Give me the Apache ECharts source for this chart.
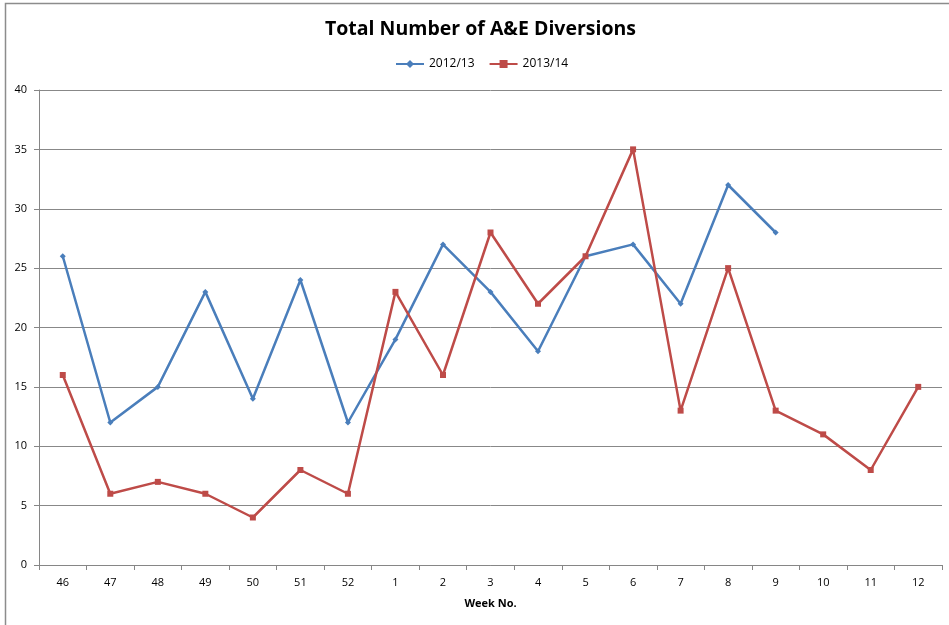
<!DOCTYPE html>
<html><head><meta charset="utf-8">
<script src="https://cdn.jsdelivr.net/npm/echarts@6/dist/echarts.min.js"></script>
<style>html,body{margin:0;padding:0;background:#fff}#c{width:949px;height:625px}</style>
</head><body><div id="c"></div>
<script>
const weeks = ['46','47','48','49','50','51','52','1','2','3','4','5','6','7','8','9','10','11','12'];
const s2012 = [26,12,15,23,14,24,12,19,27,23,18,26,27,22,32,28,null,null,null];
const s2013 = [16,6,7,6,4,8,6,23,16,28,22,26,35,13,25,13,11,8,15];
const yTicks = {min:0,max:40,interval:5};

const chart = echarts.init(document.getElementById('c'));
const font = 'Open Sans, Liberation Sans, sans-serif';
chart.setOption({
  animation:false,
  backgroundColor:'#fff',
  graphic:[{type:'rect',shape:{x:5.5,y:3.5,width:1000,height:700},style:{fill:'none',stroke:'#8c8c8c',lineWidth:1.5},z:-1}],
  title:{text:'Total Number of A&E Diversions',left:325,top:19,padding:0,
    textStyle:{fontFamily:font,fontSize:19.5,fontWeight:'bold',color:'#000'}},
  legend:{top:58,left:395,itemWidth:28,itemHeight:10,itemGap:14,padding:0,
    textStyle:{fontFamily:font,fontSize:12,color:'#000'},
    data:['2012/13','2013/14']},
  grid:{left:39,right:7,top:90,bottom:60,containLabel:false},
  xAxis:{type:'category',data:weeks,boundaryGap:true,
    name:'Week No.',nameLocation:'middle',nameGap:33,
    nameTextStyle:{fontFamily:font,fontSize:11,fontWeight:'bold',color:'#000'},
    axisLine:{lineStyle:{color:'#868686',width:1}},
    axisTick:{show:true,length:5,lineStyle:{color:'#868686'}},
    axisLabel:{fontFamily:font,fontSize:11,color:'#000',margin:12}},
  yAxis:{type:'value',min:yTicks.min,max:yTicks.max,interval:yTicks.interval,
    axisLine:{show:true,lineStyle:{color:'#868686'}},
    axisTick:{show:true,length:5,inside:false,lineStyle:{color:'#868686'}},
    axisLabel:{fontFamily:font,fontSize:11,color:'#000',margin:12},
    splitLine:{lineStyle:{color:'#888',width:1}}},
  series:[
    {name:'2012/13',type:'line',data:s2012,connectNulls:false,
     symbol:'diamond',symbolSize:6,
     lineStyle:{color:'#4A7EBB',width:2.5},itemStyle:{color:'#4A7EBB'}},
    {name:'2013/14',type:'line',data:s2013,
     symbol:'rect',symbolSize:6,
     lineStyle:{color:'#BE4B48',width:2.5},itemStyle:{color:'#BE4B48'}}
  ]
});
</script></body></html>
